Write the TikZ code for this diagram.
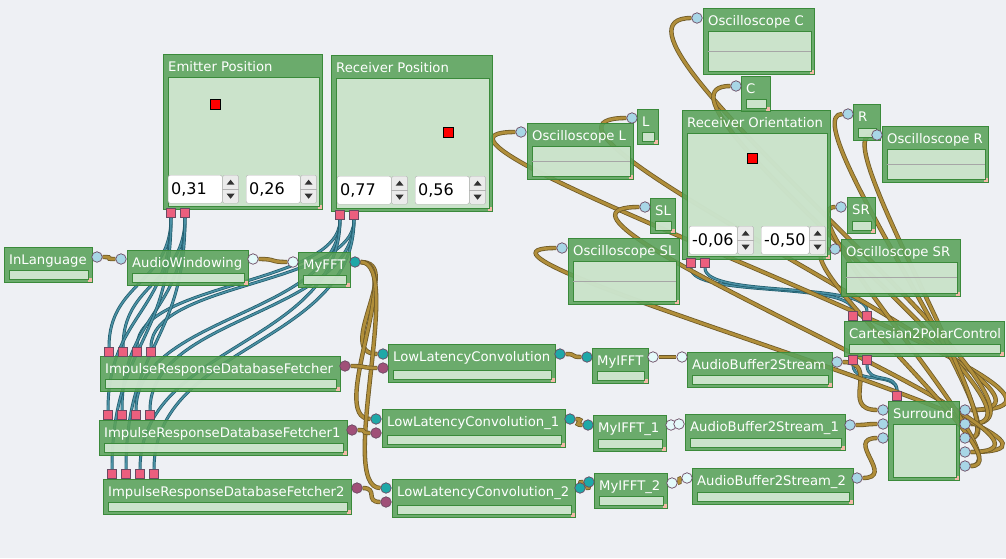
\documentclass[tikz,border=0pt]{standalone}
\usepackage{fontspec}
\setmainfont{DejaVu Sans}
\usetikzlibrary{calc,positioning}

\definecolor{canvas}{HTML}{EEF0F4}
\definecolor{boxgreen}{HTML}{5AA25A}
\definecolor{boxedge}{HTML}{3A8A3A}
\definecolor{panelgreen}{HTML}{DCEDDC}
\definecolor{wiregold}{HTML}{B08E3A}
\definecolor{wireedge}{HTML}{6E5A28}
\definecolor{wireblue}{HTML}{4A90A4}
\definecolor{blueedge}{HTML}{1F5A6A}
\definecolor{portblue}{HTML}{A8D6E6}
\definecolor{portwhite}{HTML}{E4FAFA}
\definecolor{portteal}{HTML}{1FA8A8}
\definecolor{portplum}{HTML}{A05078}
\definecolor{portpink}{HTML}{EC5F7E}
\definecolor{portedge}{HTML}{6A4A62}
\definecolor{gripcol}{HTML}{F4B8A8}

\pgfdeclarelayer{wires}
\pgfsetlayers{wires,main}

\newcommand{\titlefont}{\fontsize{13.2}{15}\selectfont}
\newcommand{\modul}[6]{%
  \node[modul, minimum width=#4pt, minimum height=#5pt] (#1) at (#2,#3) {};
  \node[modtitle] (#1-t) at ($(#1.north west)+(5,17)$) {#6};
  \fill[gripcol] ($(#1.south east)+(-5,-5)$) rectangle ($(#1.south east)+(-1,-1)$);
}
\newcommand{\meter}[1]{%
  \draw[panel] ($(#1.south west)+(5,-13)$) rectangle ($(#1.south east)+(-5,-4)$);
}
\newcommand{\screen}[1]{%
  \draw[panel] ($(#1.north west)+(5,23)$) rectangle ($(#1.south east)+(-4,-4)$);
}
\newcommand{\scopescreen}[1]{%
  \screen{#1}
  \draw[scopeline] ($(#1.west)+(5,9.5)$) -- ($(#1.east)+(-4,9.5)$);
}
\newcommand{\spinbox}[5]{%
  \node[spinfield, text width=#4pt] (#1) at (#2,#3) {#5};
  \node[spinbtn, anchor=north west] (#1-b) at (#1.north east) {};
  \draw[black!30] (#1-b.west) -- (#1-b.east);
  \fill[black!80] ($(#1-b.center)+(-4,-4.5)$) -- ($(#1-b.center)+(4,-4.5)$) -- ($(#1-b.center)+(0,-9.5)$) -- cycle;
  \fill[black!80] ($(#1-b.center)+(-4,4.5)$) -- ($(#1-b.center)+(4,4.5)$) -- ($(#1-b.center)+(0,9.5)$) -- cycle;
}

\begin{document}
\begin{tikzpicture}[x=1pt, y=-1pt,
    modul/.style={rectangle, draw=boxedge, line width=1.1pt, fill=boxgreen, fill opacity=.88, anchor=north west, inner sep=0pt},
    modtitle/.style={anchor=base west, inner sep=0pt, text=white, font=\titlefont},
    panel/.style={draw=boxedge, line width=.9pt, fill=panelgreen, fill opacity=.85},
    scopeline/.style={draw=black!35, line width=.6pt},
    puck/.style={rectangle, fill=red, draw=black, line width=.6pt, minimum size=10pt, inner sep=0pt},
    spinfield/.style={rectangle, anchor=north west, rounded corners=2pt, draw=black!30, fill=white, minimum height=28pt, inner sep=3pt, align=left, text=black, font=\fontsize{16}{18}\selectfont},
    spinbtn/.style={rectangle, rounded corners=1.5pt, draw=black!30, fill=black!8, minimum width=16pt, minimum height=28pt, inner sep=0pt},
    portdot/.style={circle, draw=portedge, line width=.7pt, minimum size=10.5pt, inner sep=0pt},
    bluedot/.style={portdot, fill=portblue},
    whitedot/.style={portdot, fill=portwhite},
    tealdot/.style={portdot, fill=portteal},
    plumdot/.style={portdot, fill=portplum},
    pinkpad/.style={rectangle, draw=portedge, line width=.6pt, fill=portpink, minimum size=9.5pt, inner sep=0pt},
    goldwire/.style={draw=wireedge, double=wiregold, double distance=2.8pt, line width=.8pt},
    bluewire/.style={draw=blueedge, double=wireblue, double distance=1.6pt, line width=.7pt},
    hcurve/.style={to path={.. controls +(#1,0) and +(-#1,0) .. (\tikztotarget)}},
    backcurve/.style 2 args={to path={.. controls +(#1,0) and +(-#2,0) .. (\tikztotarget)}},
    vcurve/.style={to path={.. controls +(0,#1) and +(0,-#1) .. (\tikztotarget)}}]
\useasboundingbox (0,0) rectangle (1006,558);

\modul{inlang}{4}{247}{88}{35}{InLanguage}
\meter{inlang}
\modul{audiowin}{127}{250}{121}{35}{AudioWindowing}
\meter{audiowin}
\modul{myfft}{298}{252}{52}{35}{MyFFT}
\meter{myfft}

\modul{emitter}{163}{54}{159}{155}{Emitter Position}
\screen{emitter}
\node[puck] (emitter-m) at (215,104) {};
\spinbox{emitter-x}{168}{175}{48}{0,31}
\spinbox{emitter-y}{246}{175}{48}{0,26}
\modul{receiver}{331}{55}{161}{156}{Receiver Position}
\screen{receiver}
\node[puck] (receiver-m) at (448,132) {};
\spinbox{receiver-x}{337}{176}{48}{0,77}
\spinbox{receiver-y}{415}{176}{48}{0,56}

\modul{irdf}{100}{356}{240}{35}{ImpulseResponseDatabaseFetcher}
\meter{irdf}
\modul{irdfa}{99}{420}{248}{35}{ImpulseResponseDatabaseFetcher1}
\meter{irdfa}
\modul{irdfb}{103}{479}{248}{35}{ImpulseResponseDatabaseFetcher2}
\meter{irdfb}

\modul{llc}{388}{344}{167}{38}{LowLatencyConvolution}
\meter{llc}
\modul{llca}{382}{409}{183}{38}{LowLatencyConvolution\_1}
\meter{llca}
\modul{llcb}{392}{479}{183}{38}{LowLatencyConvolution\_2}
\meter{llcb}

\modul{myifft}{592}{348}{56}{35}{MyIFFT}
\meter{myifft}
\modul{myiffta}{593}{415}{73}{36}{MyIFFT\_1}
\meter{myiffta}
\modul{myifftb}{594}{473}{73}{35}{MyIFFT\_2}
\meter{myifftb}

\modul{abs}{687}{352}{145}{35}{AudioBuffer2Stream}
\meter{abs}
\modul{absa}{685}{414}{160}{36}{AudioBuffer2Stream\_1}
\meter{absa}
\modul{absb}{692}{468}{161}{36}{AudioBuffer2Stream\_2}
\meter{absb}

\modul{cart}{844}{321}{160}{35}{Cartesian2PolarControl}
\meter{cart}
\modul{sur}{888}{401}{71}{79}{Surround}
\screen{sur}

\modul{orient}{682}{110}{148}{149}{Receiver Orientation}
\screen{orient}
\node[puck] (orient-m) at (752,158) {};
\spinbox{orient-x}{689}{226}{42}{-0,06}
\spinbox{orient-y}{761}{226}{42}{-0,50}

\modul{oscc}{703}{8}{111}{66}{Oscilloscope C}
\scopescreen{oscc}
\modul{mc}{741}{76}{29}{35}{C}
\meter{mc}
\modul{oscl}{527}{123}{106}{56}{Oscilloscope L}
\scopescreen{oscl}
\modul{ml}{637}{109}{21}{35}{L}
\meter{ml}
\modul{mr}{853}{104}{27}{36}{R}
\meter{mr}
\modul{oscr}{882}{126}{106}{56}{Oscilloscope R}
\scopescreen{oscr}
\modul{msl}{650}{198}{25}{35}{SL}
\meter{msl}
\modul{oscsl}{568}{238}{111}{66}{Oscilloscope SL}
\scopescreen{oscsl}
\modul{msr}{847}{197}{28}{36}{SR}
\meter{msr}
\modul{oscsr}{841}{239}{119}{57}{Oscilloscope SR}
\scopescreen{oscsr}

\node[bluedot] (inlang-o) at (97,257) {};
\node[bluedot] (audiowin-i) at (121,259) {};
\node[whitedot] (audiowin-o) at (253,259) {};
\node[whitedot] (myfft-i) at (293,262) {};
\node[tealdot] (myfft-o) at (355,262) {};

\node[pinkpad] (emitter-1) at (171,213) {};
\node[pinkpad] (emitter-2) at (185,213) {};
\node[pinkpad] (receiver-1) at (340,215) {};
\node[pinkpad] (receiver-2) at (354,215) {};

\node[pinkpad] (irdf-1) at (109,352) {};
\node[pinkpad] (irdf-2) at (123,352) {};
\node[pinkpad] (irdf-3) at (137,352) {};
\node[pinkpad] (irdf-4) at (151,352) {};
\node[plumdot] (irdf-o) at (345,366) {};
\node[pinkpad] (irdfa-1) at (108,415) {};
\node[pinkpad] (irdfa-2) at (122,415) {};
\node[pinkpad] (irdfa-3) at (136,415) {};
\node[pinkpad] (irdfa-4) at (150,415) {};
\node[plumdot] (irdfa-o) at (352,430) {};
\node[pinkpad] (irdfb-1) at (112,474) {};
\node[pinkpad] (irdfb-2) at (126,474) {};
\node[pinkpad] (irdfb-3) at (140,474) {};
\node[pinkpad] (irdfb-4) at (154,474) {};
\node[plumdot] (irdfb-o) at (357,488) {};

\node[tealdot] (llc-i1) at (383,354) {};
\node[plumdot] (llc-i2) at (383,368) {};
\node[tealdot] (llc-o) at (560,354) {};
\node[tealdot] (llca-i1) at (376,419) {};
\node[plumdot] (llca-i2) at (376,433) {};
\node[tealdot] (llca-o) at (570,419) {};
\node[tealdot] (llcb-i1) at (386,488) {};
\node[plumdot] (llcb-i2) at (386,502) {};
\node[tealdot] (llcb-o) at (580,488) {};

\node[tealdot] (myifft-i) at (587,357) {};
\node[whitedot] (myifft-o) at (653,357) {};
\node[tealdot] (myiffta-i) at (588,425) {};
\node[whitedot] (myiffta-o) at (671,425) {};
\node[tealdot] (myifftb-i) at (589,482) {};
\node[whitedot] (myifftb-o) at (672,483) {};

\node[whitedot] (abs-i) at (682,357) {};
\node[bluedot] (abs-o) at (837,362) {};
\node[whitedot] (absa-i) at (679,424) {};
\node[bluedot] (absa-o) at (850,425) {};
\node[whitedot] (absb-i) at (687,478) {};
\node[bluedot] (absb-o) at (857,478) {};

\node[pinkpad] (orient-1) at (691,263) {};
\node[pinkpad] (orient-2) at (705,263) {};
\node[pinkpad] (cart-i1) at (853,316) {};
\node[pinkpad] (cart-i2) at (867,316) {};
\node[pinkpad] (cart-o1) at (853,360) {};
\node[pinkpad] (cart-o2) at (867,360) {};

\node[pinkpad] (sur-p) at (897,396) {};
\node[bluedot] (sur-i1) at (883,410) {};
\node[bluedot] (sur-i2) at (883,424) {};
\node[bluedot] (sur-i3) at (883,438) {};
\node[bluedot] (sur-o1) at (965,410) {};
\node[bluedot] (sur-o2) at (965,424) {};
\node[bluedot] (sur-o3) at (965,438) {};
\node[bluedot] (sur-o4) at (965,452) {};
\node[bluedot] (sur-o5) at (965,466) {};

\node[bluedot] (oscc-i) at (697,18) {};
\node[bluedot] (mc-i) at (736,86) {};
\node[bluedot] (oscl-i) at (521,132) {};
\node[bluedot] (ml-i) at (632,118) {};
\node[bluedot] (mr-i) at (848,114) {};
\node[bluedot] (oscr-i) at (877,135) {};
\node[bluedot] (msl-i) at (645,207) {};
\node[bluedot] (oscsl-i) at (562,248) {};
\node[bluedot] (msr-i) at (841,207) {};
\node[bluedot] (oscsr-i) at (835,249) {};

\begin{pgfonlayer}{wires}
\fill[canvas] (0,0) rectangle (1006,558);

\draw[bluewire] (emitter-1) to[vcurve=70] (irdf-1);
\draw[bluewire] (emitter-2) to[vcurve=70] (irdf-2);
\draw[bluewire] (receiver-1) to[vcurve=70] (irdf-3);
\draw[bluewire] (receiver-2) to[vcurve=70] (irdf-4);
\draw[bluewire] (emitter-1) to[vcurve=100] (irdfa-1);
\draw[bluewire] (emitter-2) to[vcurve=100] (irdfa-2);
\draw[bluewire] (receiver-1) to[vcurve=100] (irdfa-3);
\draw[bluewire] (receiver-2) to[vcurve=100] (irdfa-4);
\draw[bluewire] (emitter-1) to[vcurve=130] (irdfb-1);
\draw[bluewire] (emitter-2) to[vcurve=130] (irdfb-2);
\draw[bluewire] (receiver-1) to[vcurve=130] (irdfb-3);
\draw[bluewire] (receiver-2) to[vcurve=130] (irdfb-4);
\draw[bluewire] (orient-1) to[vcurve=35] (cart-i1);
\draw[bluewire] (orient-2) to[vcurve=35] (cart-i2);
\draw[bluewire] (cart-o1) to[vcurve=25] (sur-p);
\draw[bluewire] (cart-o2) to[vcurve=25] (sur-p);

\draw[goldwire] (inlang-o) to[hcurve=20] (audiowin-i);
\draw[goldwire] (audiowin-o) to[hcurve=25] (myfft-i);
\draw[goldwire] (myfft-o) to[hcurve=50] (llc-i1);
\draw[goldwire] (myfft-o) to[hcurve=50] (llca-i1);
\draw[goldwire] (myfft-o) to[hcurve=50] (llcb-i1);
\draw[goldwire] (irdf-o) to[hcurve=22] (llc-i2);
\draw[goldwire] (irdfa-o) to[hcurve=18] (llca-i2);
\draw[goldwire] (irdfb-o) to[hcurve=22] (llcb-i2);
\draw[goldwire] (llc-o) to[hcurve=18] (myifft-i);
\draw[goldwire] (llca-o) to[hcurve=18] (myiffta-i);
\draw[goldwire] (llcb-o) to[hcurve=18] (myifftb-i);
\draw[goldwire] (myifft-o) to[hcurve=18] (abs-i);
\draw[goldwire] (myiffta-o) to[hcurve=8] (absa-i);
\draw[goldwire] (myifftb-o) to[hcurve=10] (absb-i);
\draw[goldwire] (abs-o) to[hcurve=45] (sur-i1);
\draw[goldwire] (absa-o) to[hcurve=20] (sur-i2);
\draw[goldwire] (absb-o) to[hcurve=40] (sur-i3);

\draw[goldwire] (sur-o1) to[backcurve={222}{175}] (oscl-i);
\draw[goldwire] (sur-o1) to[hcurve=166] (ml-i);
\draw[goldwire] (sur-o2) to[hcurve=134] (oscc-i);
\draw[goldwire] (sur-o2) to[hcurve=115] (mc-i);
\draw[goldwire] (sur-o3) to[hcurve=58] (mr-i);
\draw[goldwire] (sur-o3) to[hcurve=50] (oscr-i);
\draw[goldwire] (sur-o4) to[backcurve={201}{160}] (oscsl-i);
\draw[goldwire] (sur-o4) to[hcurve=160] (msl-i);
\draw[goldwire] (sur-o5) to[hcurve=62] (msr-i);
\draw[goldwire] (sur-o5) to[hcurve=65] (oscsr-i);
\end{pgfonlayer}
\end{tikzpicture}
\end{document}
